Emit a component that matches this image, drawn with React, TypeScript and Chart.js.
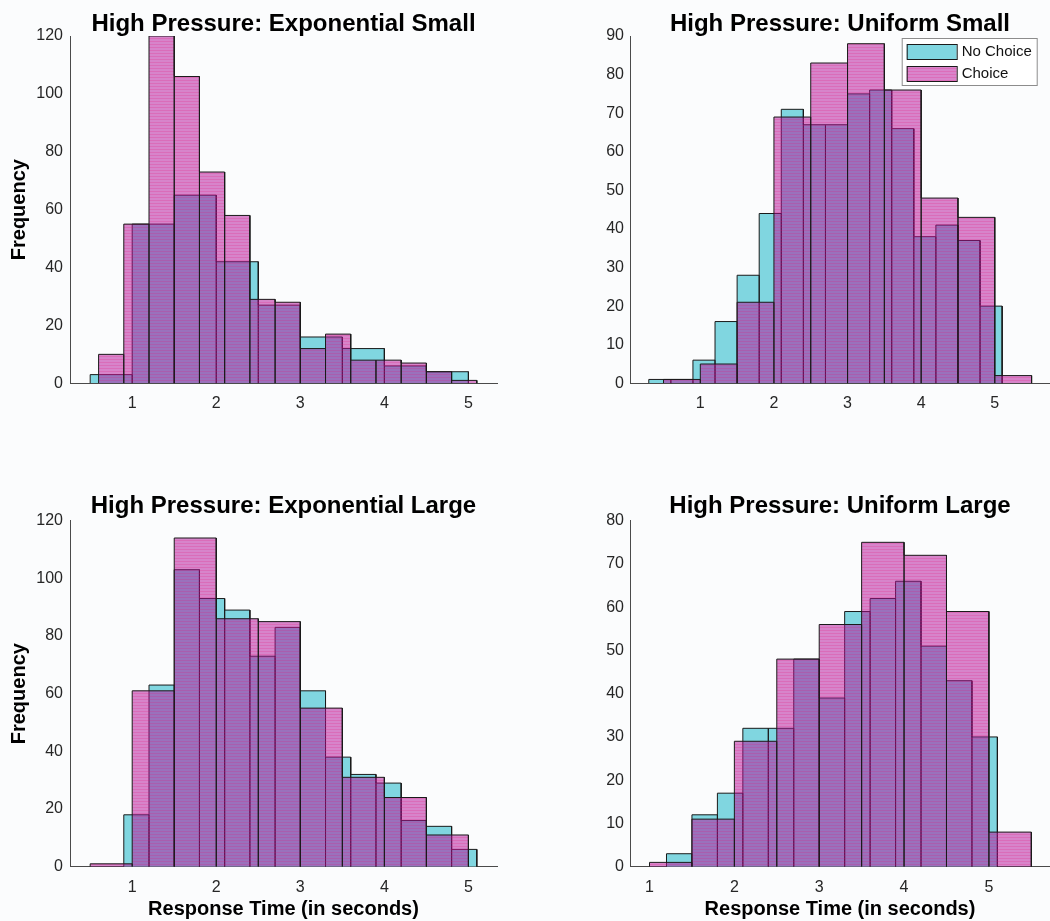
import React, { useEffect, useRef } from "react";
import { Chart, registerables } from "chart.js";

Chart.register(...registerables);

// ---------- Data ----------
const xTickValues = [1, 2, 3, 4, 5];

// High Pressure: Exponential Small
const esNoChoiceEdges = [0.5, 1.0, 1.5, 2.0, 2.5, 3.0, 3.5, 4.0, 4.5, 5.0];
const esNoChoiceCounts = [3, 55, 65, 42, 27, 16, 12, 6, 4];
const esChoiceEdges = [0.6, 0.9, 1.2, 1.5, 1.8, 2.1, 2.4, 2.7, 3.0, 3.3, 3.6, 3.9, 4.2, 4.5, 4.8, 5.1];
const esChoiceCounts = [10, 55, 120, 106, 73, 58, 29, 28, 12, 17, 8, 8, 7, 4, 1];
const esYTicks = [0, 20, 40, 60, 80, 100, 120];

// High Pressure: Uniform Small
const usNoChoiceEdges = [0.3, 0.6, 0.9, 1.2, 1.5, 1.8, 2.1, 2.4, 2.7, 3.0, 3.3, 3.6, 3.9, 4.2, 4.5, 4.8, 5.1];
const usNoChoiceCounts = [1, 1, 6, 16, 28, 44, 71, 67, 67, 75, 76, 66, 38, 41, 37, 20];
const usChoiceEdges = [0.5, 1.0, 1.5, 2.0, 2.5, 3.0, 3.5, 4.0, 4.5, 5.0, 5.5];
const usChoiceCounts = [1, 5, 21, 69, 83, 88, 76, 48, 43, 2];
const usYTicks = [0, 10, 20, 30, 40, 50, 60, 70, 80, 90];

// High Pressure: Exponential Large
const elNoChoiceEdges = [0.9, 1.2, 1.5, 1.8, 2.1, 2.4, 2.7, 3.0, 3.3, 3.6, 3.9, 4.2, 4.5, 4.8, 5.1];
const elNoChoiceCounts = [18, 63, 103, 93, 89, 73, 83, 61, 38, 32, 29, 16, 14, 6];
const elChoiceEdges = [0.5, 1.0, 1.5, 2.0, 2.5, 3.0, 3.5, 4.0, 4.5, 5.0];
const elChoiceCounts = [1, 61, 114, 86, 85, 55, 31, 24, 11];
const elYTicks = [0, 20, 40, 60, 80, 100, 120];

// High Pressure: Uniform Large
const ulNoChoiceEdges = [1.2, 1.5, 1.8, 2.1, 2.4, 2.7, 3.0, 3.3, 3.6, 3.9, 4.2, 4.5, 4.8, 5.1];
const ulNoChoiceCounts = [3, 12, 17, 32, 32, 48, 39, 59, 62, 66, 51, 43, 30];
const ulChoiceEdges = [1.0, 1.5, 2.0, 2.5, 3.0, 3.5, 4.0, 4.5, 5.0, 5.5];
const ulChoiceCounts = [1, 11, 29, 48, 56, 75, 72, 59, 8];
const ulYTicks = [0, 10, 20, 30, 40, 50, 60, 70, 80];

const seriesLabels = ["No Choice", "Choice"];
const yAxisTitle = "Frequency";
const xAxisTitle = "Response Time (in seconds)";

// ---------- Styling ----------
const FONT = "'Liberation Sans', Arial, Helvetica, sans-serif";
const CYAN = "rgb(128,214,224)";
const EDGE = "#1a1a1a";
const BG = "#fbfcfd";

type Panel = {
  title: string;
  left: number;
  top: number;
  width: number;
  height: number;
  area: { left: number; right: number; top: number; bottom: number };
  titleCenter: number;
  xMin: number;
  xMax: number;
  yMax: number;
  yTicks: number[];
  tickPad: number;
  noChoiceEdges: number[];
  noChoiceCounts: number[];
  choiceEdges: number[];
  choiceCounts: number[];
  yTitle: boolean;
  xTitle: boolean;
  legend: boolean;
};

const panels: Panel[] = [
  {
    title: "High Pressure: Exponential Small",
    left: 0, top: 0, width: 520, height: 460,
    area: { left: 70, right: 497, top: 36, bottom: 383.3 },
    titleCenter: 24.5,
    xMin: 0.26, xMax: 5.34, yMax: 120, yTicks: esYTicks, tickPad: 7,
    noChoiceEdges: esNoChoiceEdges, noChoiceCounts: esNoChoiceCounts,
    choiceEdges: esChoiceEdges, choiceCounts: esChoiceCounts,
    yTitle: true, xTitle: false, legend: false,
  },
  {
    title: "High Pressure: Uniform Small",
    left: 520, top: 0, width: 530, height: 460,
    area: { left: 110, right: 530, top: 36, bottom: 383.3 },
    titleCenter: 24.5,
    xMin: 0.045, xMax: 5.75, yMax: 90, yTicks: usYTicks, tickPad: 6,
    noChoiceEdges: usNoChoiceEdges, noChoiceCounts: usNoChoiceCounts,
    choiceEdges: usChoiceEdges, choiceCounts: usChoiceCounts,
    yTitle: false, xTitle: false, legend: true,
  },
  {
    title: "High Pressure: Exponential Large",
    left: 0, top: 460, width: 520, height: 461,
    area: { left: 70, right: 497, top: 60.7, bottom: 406.7 },
    titleCenter: 46,
    xMin: 0.26, xMax: 5.34, yMax: 120, yTicks: elYTicks, tickPad: 7,
    noChoiceEdges: elNoChoiceEdges, noChoiceCounts: elNoChoiceCounts,
    choiceEdges: elChoiceEdges, choiceCounts: elChoiceCounts,
    yTitle: true, xTitle: true, legend: false,
  },
  {
    title: "High Pressure: Uniform Large",
    left: 520, top: 460, width: 530, height: 461,
    area: { left: 110, right: 530, top: 60.7, bottom: 406.7 },
    titleCenter: 46,
    xMin: 0.77, xMax: 5.72, yMax: 80, yTicks: ulYTicks, tickPad: 6,
    noChoiceEdges: ulNoChoiceEdges, noChoiceCounts: ulNoChoiceCounts,
    choiceEdges: ulChoiceEdges, choiceCounts: ulChoiceCounts,
    yTitle: false, xTitle: true, legend: false,
  },
];

// Outline of a histogram: up, across, down for each bin (values from the arrays)
function histPoints(edges: number[], counts: number[]) {
  const pts: { x: number; y: number }[] = [];
  for (let i = 0; i < counts.length; i++) {
    pts.push({ x: edges[i], y: 0 });
    pts.push({ x: edges[i], y: counts[i] });
    pts.push({ x: edges[i + 1], y: counts[i] });
    pts.push({ x: edges[i + 1], y: 0 });
  }
  return pts;
}

function makeStripePattern(ctx: CanvasRenderingContext2D): CanvasPattern | string {
  const fallback = "rgba(180,10,150,0.52)";
  const c = document.createElement("canvas");
  c.width = 4;
  c.height = 3;
  const g = c.getContext("2d");
  if (!g) return fallback;
  g.fillStyle = "rgba(180,12,152,0.5)";
  g.fillRect(0, 0, 4, 2);
  g.fillStyle = "rgba(196,14,140,0.6)";
  g.fillRect(0, 2, 4, 1);
  return ctx.createPattern(c, "repeat") || fallback;
}

const boxLegend = {
  id: "boxLegend",
  afterDraw(chart: any, _args: any, opts: any) {
    if (!opts || !opts.display) return;
    const { ctx, chartArea } = chart;
    const boxRight = chartArea.right - 12.3;
    const boxW = 136;
    const boxLeft = boxRight - boxW;
    const boxTop = chartArea.top + 2;
    const boxH = 48;
    ctx.save();
    ctx.fillStyle = "#ffffff";
    ctx.fillRect(boxLeft, boxTop, boxW, boxH);
    ctx.strokeStyle = "#8c8c8c";
    ctx.lineWidth = 1;
    ctx.strokeRect(boxLeft + 0.5, boxTop + 0.5, boxW - 1, boxH - 1);
    const ds = chart.data.datasets;
    ds.forEach((d: any, i: number) => {
      const sy = boxTop + 6 + i * 22;
      ctx.fillStyle = "#ffffff";
      ctx.fillRect(boxLeft + 5, sy, 50, 15);
      ctx.fillStyle = d.backgroundColor;
      ctx.fillRect(boxLeft + 5, sy, 50, 15);
      ctx.strokeStyle = EDGE;
      ctx.strokeRect(boxLeft + 5.5, sy + 0.5, 50, 15);
      ctx.fillStyle = "#111111";
      ctx.font = `15px ${FONT}`;
      ctx.textBaseline = "middle";
      ctx.textAlign = "left";
      ctx.fillText(d.label, boxLeft + 60, sy + 8);
    });
    ctx.restore();
  },
};

function HistPanel({ p }: { p: Panel }) {
  const ref = useRef<HTMLCanvasElement | null>(null);
  useEffect(() => {
    const canvas = ref.current;
    if (!canvas) return;
    const ctx = canvas.getContext("2d");
    if (!ctx) return;
    const stripe = makeStripePattern(ctx);
    const titleSize = 24;
    const titleLH = titleSize * 1.0;
    const titlePadTop = p.titleCenter - titleLH / 2;
    const titlePadBottom = p.area.top - titlePadTop - titleLH;
    const xScaleHeight = p.height - p.area.bottom;

    const chart = new Chart(ctx, {
      type: "scatter",
      data: {
        datasets: [
          {
            label: seriesLabels[0],
            data: histPoints(p.noChoiceEdges, p.noChoiceCounts),
            showLine: true,
            pointRadius: 0,
            borderColor: EDGE,
            borderWidth: 1,
            backgroundColor: CYAN,
            fill: "origin",
            order: 2,
          } as any,
          {
            label: seriesLabels[1],
            data: histPoints(p.choiceEdges, p.choiceCounts),
            showLine: true,
            pointRadius: 0,
            borderColor: EDGE,
            borderWidth: 1,
            backgroundColor: stripe,
            fill: "origin",
            order: 1,
          } as any,
        ],
      },
      options: {
        responsive: false,
        animation: false,
        events: [],
        layout: {
          padding: { left: 0, top: 0, bottom: 0, right: p.width - p.area.right },
        },
        plugins: {
          legend: { display: false },
          tooltip: { enabled: false },
          title: {
            display: true,
            text: p.title,
            fullSize: false,
            color: "#000000",
            font: { family: FONT, size: titleSize, weight: "bold", lineHeight: 1.0 },
            padding: { top: titlePadTop, bottom: titlePadBottom },
          },
          boxLegend: { display: p.legend },
        } as any,
        scales: {
          x: {
            type: "linear",
            min: p.xMin,
            max: p.xMax,
            grid: { display: false, drawTicks: false },
            border: { display: true, color: "#4a4a4a", width: 1 },
            afterBuildTicks: (scale: any) => {
              scale.ticks = xTickValues.map((v) => ({ value: v }));
            },
            afterFit: (scale: any) => {
              scale.height = xScaleHeight;
            },
            ticks: {
              color: "#262626",
              font: { family: FONT, size: 16 },
              padding: 11,
              maxRotation: 0,
              callback: (v: any) => String(v),
            },
            title: {
              display: p.xTitle,
              text: xAxisTitle,
              color: "#000000",
              font: { family: FONT, size: 20, weight: "bold", lineHeight: 1.2 },
              padding: { top: 0, bottom: 0 },
            },
          },
          y: {
            type: "linear",
            min: 0,
            max: p.yMax,
            grid: { display: false, drawTicks: false },
            border: { display: true, color: "#4a4a4a", width: 1 },
            afterBuildTicks: (scale: any) => {
              scale.ticks = p.yTicks.map((v) => ({ value: v }));
            },
            afterFit: (scale: any) => {
              scale.width = p.area.left;
            },
            ticks: {
              color: "#262626",
              font: { family: FONT, size: 16 },
              padding: p.tickPad,
              callback: (v: any) => String(v),
            },
            title: {
              display: p.yTitle,
              text: yAxisTitle,
              color: "#000000",
              font: { family: FONT, size: 20, weight: "bold", lineHeight: 1.2 },
              padding: { top: 7.5, bottom: 0 },
            },
          },
        },
      } as any,
      plugins: [boxLegend as any],
    });
    return () => chart.destroy();
  }, [p]);

  return (
    <div
      style={{
        position: "absolute",
        left: p.left,
        top: p.top,
        width: p.width,
        height: p.height,
      }}
    >
      <canvas ref={ref} width={p.width} height={p.height} style={{ display: "block" }} />
    </div>
  );
}

export default function App() {
  return (
    <div
      style={{
        position: "absolute",
        left: 0,
        top: 0,
        width: 1050,
        height: 921,
        background: BG,
        overflow: "hidden",
      }}
    >
      {panels.map((p) => (
        <HistPanel key={p.title} p={p} />
      ))}
    </div>
  );
}
